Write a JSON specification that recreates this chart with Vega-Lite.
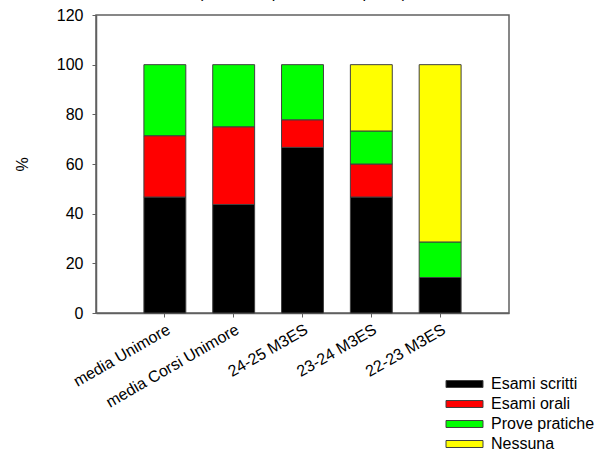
{
  "$schema": "https://vega.github.io/schema/vega-lite/v6.json",
  "autosize": {"type": "none"},
  "width": 413,
  "height": 298,
  "padding": {"left": 96, "top": 15, "right": 95, "bottom": 144},
  "background": "white",
  "title": {
    "text": "(Possibile più di una risposta)",
    "fontSize": 16,
    "font": "Liberation Sans",
    "fontWeight": "normal",
    "color": "black",
    "anchor": "middle",
    "frame": "group",
    "baseline": "bottom",
    "offset": -10
  },
  "config": {
    "font": "Liberation Sans",
    "view": {"stroke": "#606060", "strokeWidth": 1.5},
    "axis": {"domainColor": "#606060", "tickColor": "#606060", "labelColor": "black", "titleColor": "black", "grid": false}
  },
  "data": {
    "values": [
      {"cat": "media Unimore", "tipo": "Esami scritti", "o": 1, "v": 46.7},
      {"cat": "media Unimore", "tipo": "Esami orali", "o": 2, "v": 24.7},
      {"cat": "media Unimore", "tipo": "Prove pratiche", "o": 3, "v": 28.6},
      {"cat": "media Corsi Unimore", "tipo": "Esami scritti", "o": 1, "v": 43.7},
      {"cat": "media Corsi Unimore", "tipo": "Esami orali", "o": 2, "v": 31.3},
      {"cat": "media Corsi Unimore", "tipo": "Prove pratiche", "o": 3, "v": 25.0},
      {"cat": "24-25 M3ES", "tipo": "Esami scritti", "o": 1, "v": 66.7},
      {"cat": "24-25 M3ES", "tipo": "Esami orali", "o": 2, "v": 11.1},
      {"cat": "24-25 M3ES", "tipo": "Prove pratiche", "o": 3, "v": 22.2},
      {"cat": "23-24 M3ES", "tipo": "Esami scritti", "o": 1, "v": 46.7},
      {"cat": "23-24 M3ES", "tipo": "Esami orali", "o": 2, "v": 13.3},
      {"cat": "23-24 M3ES", "tipo": "Prove pratiche", "o": 3, "v": 13.3},
      {"cat": "23-24 M3ES", "tipo": "Nessuna", "o": 4, "v": 26.7},
      {"cat": "22-23 M3ES", "tipo": "Esami scritti", "o": 1, "v": 14.3},
      {"cat": "22-23 M3ES", "tipo": "Prove pratiche", "o": 3, "v": 14.3},
      {"cat": "22-23 M3ES", "tipo": "Nessuna", "o": 4, "v": 71.4}
    ]
  },
  "mark": {"type": "bar", "stroke": "#404040", "strokeWidth": 1},
  "encoding": {
    "x": {
      "field": "cat",
      "type": "nominal",
      "sort": ["media Unimore", "media Corsi Unimore", "24-25 M3ES", "23-24 M3ES", "22-23 M3ES"],
      "scale": {"paddingInner": 0.391, "paddingOuter": 0.696},
      "axis": {
        "title": null,
        "labelAngle": -30,
        "labelAlign": "right",
        "labelBaseline": "top",
        "labelFontSize": 16,
        "labelPadding": 4,
        "tickSize": 4,
        "domainWidth": 1.5
      }
    },
    "y": {
      "field": "v",
      "type": "quantitative",
      "stack": "zero",
      "scale": {"domain": [0, 120], "nice": false},
      "axis": {
        "title": "%",
        "titleFontSize": 16,
        "titleFontWeight": "normal",
        "titleX": -74,
        "titleY": 149,
        "titleAlign": "center",
        "titleBaseline": "middle",
        "titleAngle": -90,
        "values": [0, 20, 40, 60, 80, 100, 120],
        "labelFontSize": 16,
        "labelPadding": 9,
        "tickSize": 4,
        "domainWidth": 1.5
      }
    },
    "order": {"field": "o", "type": "quantitative"},
    "color": {
      "field": "tipo",
      "type": "nominal",
      "scale": {
        "domain": ["Esami scritti", "Esami orali", "Prove pratiche", "Nessuna"],
        "range": ["#000000", "#ff0000", "#00ff00", "#ffff00"]
      },
      "legend": {
        "title": null,
        "orient": "none",
        "legendX": 360.5,
        "legendY": 361,
        "padding": 0,
        "symbolType": "M-3.7,-0.7H3.7V0.7H-3.7Z",
        "symbolSize": 100,
        "symbolStrokeColor": "#404040",
        "symbolStrokeWidth": 1,
        "symbolOpacity": 1,
        "labelFontSize": 16,
        "labelColor": "black",
        "labelOffset": 18.5,
        "rowPadding": 4
      }
    }
  }
}
